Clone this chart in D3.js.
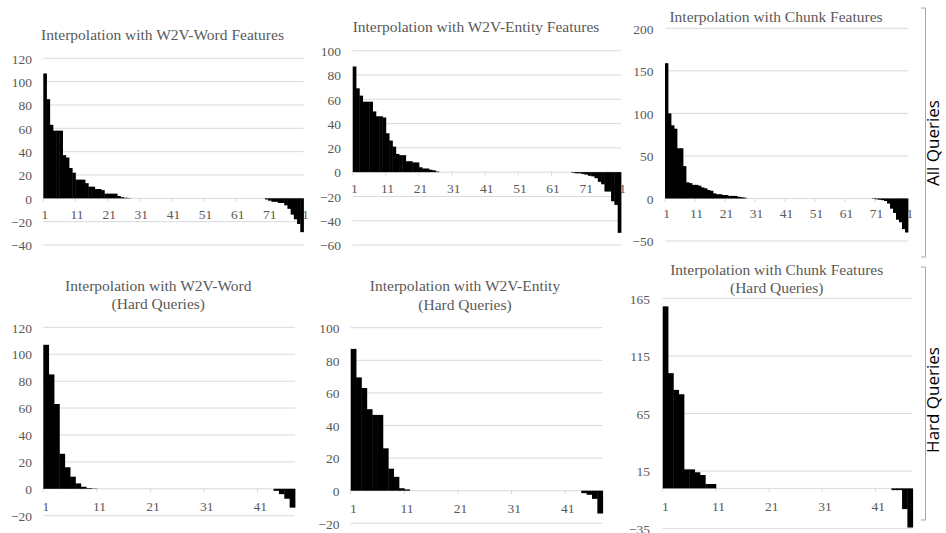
<!DOCTYPE html>
<html>
<head>
<meta charset="utf-8">
<script src="https://cdn.jsdelivr.net/npm/d3@7/dist/d3.min.js"></script>
<style>
    body { margin: 0; background: #fff; }
    svg { display: block; }
    .title { font-family: 'Liberation Serif', 'Times New Roman', serif; font-size: 15.5px; fill: #595959; }
    .tick text { font-family: 'Liberation Serif', 'Times New Roman', serif; font-size: 13.5px; fill: #595959; }
    .side-label { font-family: 'Open Sans', sans-serif; font-size: 17px; fill: #000; }
</style>
</head>
<body>
<div id="chart"></div>
<script>
/* values, one entry per query (sorted) */
const wordAll = [107, 85, 63, 58, 58, 58, 37, 35, 26, 22, 16, 16, 16, 13, 10, 10, 8, 8, 7, 4,
    4, 4, 4, 2, 1, 0.5, 0.3,
    0, 0, 0, 0, 0, 0, 0, 0, 0, 0, 0, 0, 0, 0, 0, 0, 0, 0, 0, 0, 0,
    0, 0, 0, 0, 0, 0, 0, 0, 0, 0, 0, 0, 0, 0, 0, 0, 0, 0, 0, 0, 0,
    -1, -2, -3, -3, -4, -4, -6, -9, -14, -18, -22, -29];
const entityAll = [87, 69, 63, 58, 58, 58, 50, 46, 46, 45, 32, 26, 21, 15, 14, 14, 9, 9, 8, 8,
    4, 3, 3, 2, 1.5, 0.5,
    0, 0, 0, 0, 0, 0, 0, 0, 0, 0, 0, 0, 0, 0, 0, 0, 0, 0, 0, 0,
    0, 0, 0, 0, 0, 0, 0, 0, 0, 0, 0, 0, 0, 0, 0, 0, 0, 0, 0, 0,
    -0.5, -1, -1, -1.5, -2, -3, -3.5, -5, -8, -10, -16, -16, -24, -27, -50];
const chunkAll = [159, 100, 86, 82, 59, 59, 38, 19, 18, 16, 16, 15, 13, 12, 10, 9, 6, 5, 5, 4,
    4, 3, 3, 3, 2, 1.5, 1,
    0, 0, 0, 0, 0, 0, 0, 0, 0, 0, 0, 0, 0, 0, 0, 0, 0, 0, 0, 0, 0,
    0, 0, 0, 0, 0, 0, 0, 0, 0, 0, 0, 0, 0, 0, 0, 0, 0, 0, 0, 0, 0,
    -0.5, -1, -1.5, -2, -3, -6, -12, -17, -25, -28, -36, -40];
const wordHard = [107, 85, 63, 26, 16, 9, 4, 1.5, 0.5, 0.2,
    0, 0, 0, 0, 0, 0, 0, 0, 0, 0, 0, 0, 0, 0, 0, 0, 0,
    0, 0, 0, 0, 0, 0, 0, 0, 0, 0, 0, 0, 0, 0, 0, 0,
    -1.5, -4, -7.4, -14];
const entityHard = [87, 69.5, 63, 50, 46.5, 46.5, 26, 13.5, 8.5, 1.5, 0.8,
    0, 0, 0, 0, 0, 0, 0, 0, 0, 0, 0, 0, 0, 0, 0, 0,
    0, 0, 0, 0, 0, 0, 0, 0, 0, 0, 0, 0, 0, 0, 0, 0,
    -1.5, -2.5, -5, -14];
const chunkHard = [158, 100, 85.5, 81.7, 16.5, 16.5, 14, 11.6, 3.8, 3.8,
    0, 0, 0, 0, 0, 0, 0, 0, 0, 0, 0, 0, 0, 0, 0, 0, 0,
    0, 0, 0, 0, 0, 0, 0, 0, 0, 0, 0, 0, 0, 0, 0, 0,
    -1.5, -1.5, -18, -34];

const xTicksAll = [1, 11, 21, 31, 41, 51, 61, 71, 81];
const xTicksHard = [1, 11, 21, 31, 41];
const yTicksWordAll = [-40, -20, 0, 20, 40, 60, 80, 100, 120];
const yTicksEntityAll = [-60, -40, -20, 0, 20, 40, 60, 80, 100];
const yTicksChunkAll = [-50, 0, 50, 100, 150, 200];
const yTicksWordHard = [-20, 0, 20, 40, 60, 80, 100, 120];
const yTicksEntityHard = [-20, 0, 20, 40, 60, 80, 100];
const yTicksChunkHard = [-35, 15, 65, 115, 165];

const titles = [
    ['Interpolation with W2V-Word Features'],
    ['Interpolation with W2V-Entity Features'],
    ['Interpolation with Chunk Features'],
    ['Interpolation with W2V-Word', '(Hard Queries)'],
    ['Interpolation with W2V-Entity', '(Hard Queries)'],
    ['Interpolation with Chunk Features', '(Hard Queries)']
];
const sideLabels = ['All Queries', 'Hard Queries'];

const width = 946, height = 533;
const gridColor = '#d9d9d9';

const svg = d3.select('#chart').append('svg')
    .attr('width', width)
    .attr('height', height);

// layout of each small chart (pixels)
const panels = [
    { data: wordAll, xTicks: xTicksAll, yTicks: yTicksWordAll, title: titles[0],
      x0: 43.3, x1: 303.5, yr: [245, 58.3], labelX: 32, titleX: 162.5, titleY: [40], labelDy: 21 },
    { data: entityAll, xTicks: xTicksAll, yTicks: yTicksEntityAll, title: titles[1],
      x0: 352.7, x1: 621, yr: [245, 50.7], labelX: 341, titleX: 476, titleY: [31.5], labelDy: 21 },
    { data: chunkAll, xTicks: xTicksAll, yTicks: yTicksChunkAll, title: titles[2],
      x0: 665, x1: 908, yr: [241, 28.3], labelX: 653.5, titleX: 776, titleY: [21.5], labelDy: 20 },
    { data: wordHard, xTicks: xTicksHard, yTicks: yTicksWordHard, title: titles[3],
      x0: 43.3, x1: 295, yr: [515.7, 327.3], labelX: 32, titleX: 158.3, titleY: [291, 308.5], labelDy: 22.5 },
    { data: entityHard, xTicks: xTicksHard, yTicks: yTicksEntityHard, title: titles[4],
      x0: 350.7, x1: 602.7, yr: [523.3, 327.7], labelX: 339.5, titleX: 465, titleY: [291, 309.5], labelDy: 22.5 },
    { data: chunkHard, xTicks: xTicksHard, yTicks: yTicksChunkHard, title: titles[5],
      x0: 662.7, x1: 912.7, yr: [528.7, 298.3], labelX: 650, titleX: 776.7, titleY: [275, 293], labelDy: 22.5 }
];

function drawPanel (p) {
    const cats = d3.range(1, p.data.length + 1);
    const xscale = d3.scaleBand().domain(cats).range([p.x0, p.x1]).padding(0);
    const yscale = d3.scaleLinear()
        .domain([p.yTicks[0], p.yTicks[p.yTicks.length - 1]])
        .range(p.yr);
    const g = svg.append('g');
    const zero = yscale(0);

    // gridlines
    g.append('g')
        .selectAll('line')
        .data(p.yTicks.filter(d => d !== 0))
        .join('line')
        .attr('x1', p.x0).attr('x2', p.x1)
        .attr('y1', d => yscale(d)).attr('y2', d => yscale(d))
        .style('stroke', gridColor).style('stroke-width', 1);

    // y labels
    const yAxis = d3.axisLeft(yscale).tickValues(p.yTicks).tickSize(0).tickPadding(0);
    g.append('g')
        .attr('transform', `translate(${p.labelX}, 0)`)
        .call(yAxis)
        .call(a => a.select('.domain').remove())
        .selectAll('text').attr('dy', '0.35em');

    // zero axis with tick marks on category edges
    g.append('line')
        .attr('x1', p.x0).attr('x2', p.x1)
        .attr('y1', zero).attr('y2', zero)
        .style('stroke', gridColor).style('stroke-width', 1);
    g.append('g')
        .selectAll('line')
        .data(p.xTicks.filter(d => d <= cats.length))
        .join('line')
        .attr('x1', d => xscale(d)).attr('x2', d => xscale(d))
        .attr('y1', zero).attr('y2', zero + 3.5)
        .style('stroke', gridColor);

    // category labels (under the bars, the last one gets partly covered)
    const xAxis = d3.axisBottom(xscale).tickValues(p.xTicks).tickSize(0).tickPadding(0);
    g.append('g')
        .attr('transform', `translate(0, ${zero + p.labelDy})`)
        .call(xAxis)
        .call(a => a.select('.domain').remove())
        .selectAll('text').attr('dy', 0).attr('y', 0);

    // bars
    g.append('g')
        .selectAll('rect')
        .data(p.data)
        .join('rect')
        .attr('x', (d, i) => xscale(i + 1))
        .attr('width', xscale.bandwidth() + 0.4)
        .attr('y', d => yscale(Math.max(0, d)))
        .attr('height', d => Math.abs(yscale(d) - zero))
        .style('fill', '#000');

    // title
    g.selectAll('.title')
        .data(p.title)
        .join('text')
        .attr('class', 'title')
        .attr('x', p.titleX)
        .attr('y', (d, i) => p.titleY[i])
        .style('text-anchor', 'middle')
        .text(d => d);
}

panels.forEach(drawPanel);

// brackets on the right
const brackets = [
    { y0: 8, y1: 257, ty: 143 },
    { y0: 267, y1: 520, ty: 400 }
];
brackets.forEach((b, i) => {
    svg.append('path')
        .attr('d', `M921,${b.y0}H925.5V${b.y1}H921`)
        .style('fill', 'none')
        .style('stroke', '#a6a6a6')
        .style('stroke-width', 1);
    svg.append('text')
        .attr('class', 'side-label')
        .attr('transform', `translate(939, ${b.ty}) rotate(-90)`)
        .style('text-anchor', 'middle')
        .text(sideLabels[i]);
});
</script>
</body>
</html>
